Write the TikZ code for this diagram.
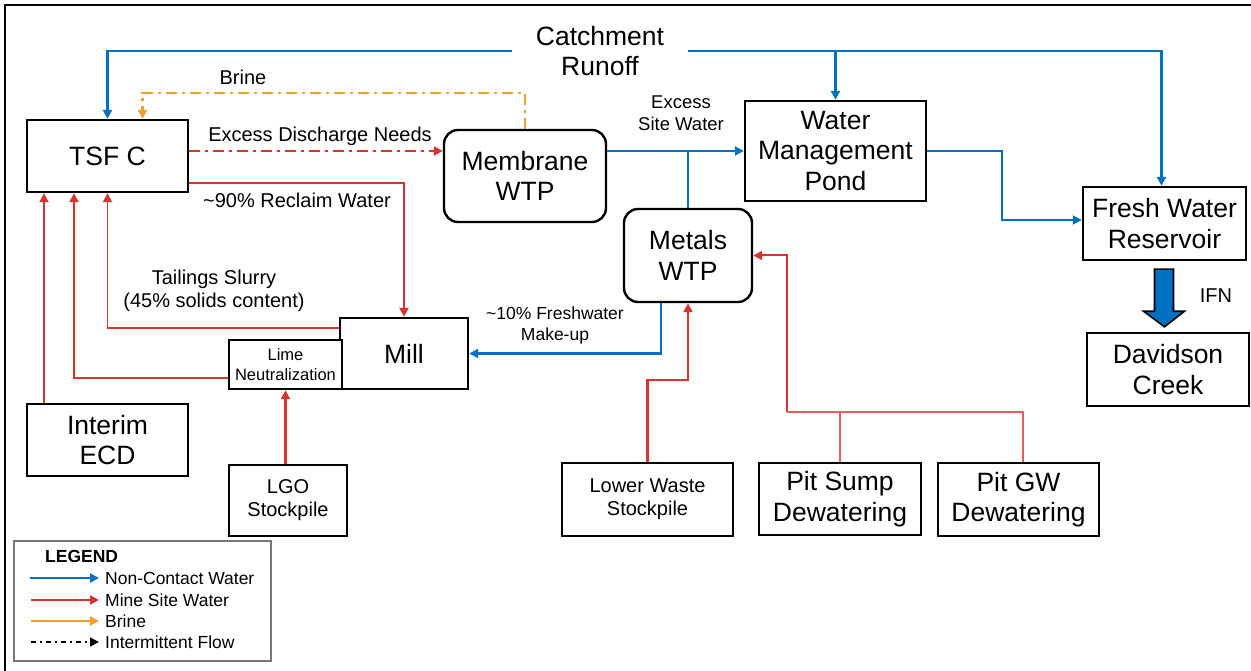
\documentclass[tikz,border=0pt]{standalone}
\usepackage{fontspec}
\setmainfont{Liberation Sans}
\usetikzlibrary{arrows.meta,calc}
\definecolor{ncblue}{RGB}{0,112,192}
\definecolor{msred}{RGB}{214,52,46}
\definecolor{msredl}{RGB}{226,96,92}
\definecolor{brorange}{RGB}{240,160,48}
\definecolor{leggray}{RGB}{120,120,120}
\newcommand\fszA{\fontsize{26.5}{30.5}\selectfont}
\newcommand\fszB{\fontsize{20}{23}\selectfont}
\newcommand\fszC{\fontsize{18.5}{22.5}\selectfont}
\newcommand\fszD{\fontsize{16.5}{20}\selectfont}
\newcommand\fszE{\fontsize{17.5}{21}\selectfont}
\tikzset{
  box/.style={draw, line width=2.4pt, inner sep=0pt, align=center, font=\fszA},
  rbox/.style={box, rounded corners=14pt},
  lbl/.style={inner sep=0pt, align=center},
  tip/.style={-{Triangle[length=9pt,width=9pt]}},
  nc/.style={draw=ncblue, line width=2.4pt, tip},
  ncthin/.style={draw=ncblue, line width=1.5pt},
  ms/.style={draw=msred, line width=2.4pt, tip},
  msthin/.style={draw=msredl, line width=1.5pt},
  br/.style={draw=brorange, line width=2.4pt, tip},
  ddot/.style={dash pattern=on 11pt off 5pt on 3pt off 5pt},
}
\begin{document}
\begin{tikzpicture}[x=1pt,y=-1pt]
\useasboundingbox (0,0) rectangle (1251,671);
% frame
\draw[line width=2.5pt] (5,671) -- (5,5) -- (1251,5);

% boxes
\node[box, minimum width=161, minimum height=72] (tsf) at (107.5,156) {TSF C};
\node[rbox, minimum width=162, minimum height=92] (memb) at (525,176) {Membrane\\WTP};
\node[box, minimum width=181, minimum height=100] (wmp) at (835.5,151) {Water\\Management\\Pond};
\node[box, minimum width=163, minimum height=73] (fwr) at (1164.5,223.5) {Fresh Water\\Reservoir};
\node[box, minimum width=162, minimum height=73] (dc) at (1168,369.5) {Davidson\\Creek};
\node[rbox, minimum width=128, minimum height=93] (metals) at (688,255.5) {Metals\\WTP};
\node[box, minimum width=128, minimum height=71] (mill) at (404,353.5) {Mill};
\node[box, minimum width=113, minimum height=49, font=\fszD, fill=white] (lime) at (285.5,364.5) {Lime\\Neutralization};
\node[box, minimum width=161, minimum height=72] (iecd) at (107.5,440) {Interim\\ECD};
\node[box, minimum width=118, minimum height=71, font=\fszB] (lgo) at (288,500.5) {LGO\\Stockpile};
\node[box, minimum width=171, minimum height=73, font=\fszB] (lws) at (647.5,499.5) {Lower Waste\\Stockpile};
\node[box, minimum width=162, minimum height=72] (psd) at (840,499) {Pit Sump\\Dewatering};
\node[box, minimum width=161, minimum height=73] (pgw) at (1018.5,499.5) {Pit GW\\Dewatering};

% labels
\node[lbl, font=\fszA, inner xsep=24pt] (catch) at (600,51) {Catchment\\Runoff};
\node[lbl, font=\fszB] (lbrine) at (243,77) {Brine};
\node[lbl, font=\fszB] (lexd) at (320,136) {Excess Discharge Needs};
\node[lbl, font=\fszB] (lrec) at (297,200) {\textasciitilde90\% Reclaim Water};
\node[lbl, font=\fszB] (ltail) at (214,291) {Tailings Slurry\\(45\% solids content)};
\node[lbl, font=\fszC] (lesw) at (681,113) {Excess\\Site Water};
\node[lbl, font=\fszE] (lfresh) at (555,325) {\textasciitilde10\% Freshwater\\Make-up};
\node[lbl, font=\fszB] (lifn) at (1216,296) {IFN};

% catchment runoff (non-contact)
\draw[nc] (catch.west) -| (tsf.north);
\draw[nc] (catch.east) -| ($(fwr.north)+(-3,0)$);
\draw[nc] (wmp.north |- catch.east) -- (wmp.north);

% brine
\draw[br, ddot] (memb.north) |- ($(tsf.north)+(35,-26)$) -- ($(tsf.north)+(35,0)$);

% excess discharge
\draw[ms, ddot] (tsf.east |- wmp.west) -- (memb.west |- wmp.west);

% membrane -> WMP, metals -> WMP
\draw[ncthin] (memb.east |- wmp.west) -- (metals.north |- wmp.west);
\draw[nc] (metals.north) |- (wmp.west);

% WMP -> FWR
\draw[nc, line width=1.8pt] (wmp.east) -- ($(wmp.east)+(75,0)$) |- ($(fwr.west)+(0,-3.5)$);

% FWR -> Davidson Creek (IFN)
\filldraw[fill=ncblue, draw=black, line width=1.6pt]
  ($(fwr.south)+(-10,8)$) -- ($(fwr.south)+(9,8)$) -- ($(fwr.south)+(9,50)$)
  -- ($(fwr.south)+(20,50)$) -- ($(dc.north)+(-3.5,-5)$) -- ($(fwr.south)+(-21,50)$)
  -- ($(fwr.south)+(-10,50)$) -- cycle;

% metals -> mill (freshwater make-up)
\draw[nc] ($(metals.south)+(-27,0)$) |- (mill.east);

% lower waste -> metals
\draw[ms] (lws.north) -- ($(lws.north)+(0,-82)$) -| (metals.south);

% pit dewatering -> metals
\coordinate (pj) at ($(psd.north)+(-53,-50)$);
\draw[msthin] ($(pgw.north)+(4.5,0)$) |- (pj);
\draw[msthin] (psd.north) -- (psd.north |- pj);
\draw[ms, line width=2pt] (pj) |- (metals.east);

% TSF -> mill (reclaim)
\draw[ms] ($(tsf.east)+(0,27)$) -| (mill.north);

% mill -> TSF (tailings)
\draw[ms, line width=1.8pt] ($(mill.west)+(0,-25.5)$) -| (tsf.south);

% lime -> TSF
\draw[ms] ($(lime.west)+(0,13.5)$) -| ($(tsf.south)+(-33.5,0)$);

% interim ECD -> TSF
\draw[ms, line width=1.8pt] ($(iecd.north)+(-63.5,0)$) -- ($(tsf.south)+(-63.5,0)$);

% LGO -> lime
\draw[ms] (lgo.north -| lime.south) -- (lime.south);

% legend
\node[draw=leggray, line width=1.5pt, minimum width=257, minimum height=120, inner sep=0pt] (leg) at (142.5,601) {};
\node[lbl, font=\bfseries\fszE, anchor=west] (legt) at (45,556) {LEGEND};
\node[lbl, font=\fszE, anchor=west] (lg1) at (105,578) {Non-Contact Water};
\node[lbl, font=\fszE, anchor=west] (lg2) at (105,600) {Mine Site Water};
\node[lbl, font=\fszE, anchor=west] (lg3) at (105,621) {Brine};
\node[lbl, font=\fszE, anchor=west] (lg4) at (105,642) {Intermittent Flow};
\coordinate (la1) at (30,578);
\coordinate (la2) at (31,600);
\coordinate (la3) at (31,621);
\coordinate (la4) at (31,642);
\draw[nc, line width=2.8pt] (la1) -- ($(lg1.west)+(-6,0)$);
\draw[ms, line width=2.8pt] (la2) -- ($(lg2.west)+(-6,0)$);
\draw[br, line width=2.8pt] (la3) -- ($(lg3.west)+(-6,0)$);
\draw[line width=1.5pt, tip, dash pattern=on 5pt off 4pt on 2pt off 4pt] (la4) -- ($(lg4.west)+(-6,0)$);
\end{tikzpicture}
\end{document}
